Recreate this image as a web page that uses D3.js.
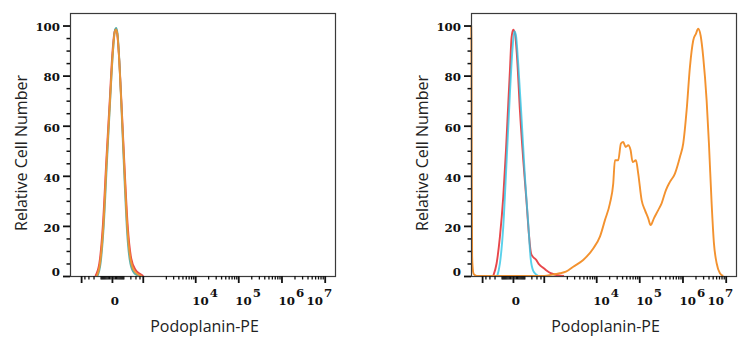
<!DOCTYPE html>
<html>
<head>
<meta charset="utf-8">
<script src="https://cdn.jsdelivr.net/npm/d3@7"></script>
<style>
  body { margin: 0; background: #fff; }
  svg { display: block; }
</style>
</head>
<body>
<svg id="chart" width="751" height="350"></svg>
<script>
// Axis definitions
const yTickValues = [0, 20, 40, 60, 80, 100];
const yMinorStep = 5;
const xMajorTicks = [-500, 0, 500, 1e4, 1e5, 1e6, 1e7];
const xLabelTicks = [0, 1e4, 1e5, 1e6, 1e7];
const xTitle = "Podoplanin-PE";
const yTitle = "Relative Cell Number";

// Histograms: [fluorescence intensity, % of max]
// Panel 1 (negative cells)
const leftRed = [[-170,0],[-115,5],[-75,20],[-42,46],[-15,70],[3,89],[18,97.5],[27,98.5],[38,97],[56,87],[86,64],[120,40],[158,20],[215,7],[300,2.5],[400,1],[520,0]];
const leftTeal = [[-140,0],[-100,5],[-66,20],[-36,46],[-11,71],[6,89],[20,97.8],[30,99],[41,97],[58,86],[85,62],[115,38],[148,18],[200,5],[280,1],[400,0]];
const leftOrange = [[-150,0],[-107,5],[-70,19.6],[-39,46],[-13,70],[5,88.7],[19,97.3],[29,98.3],[40,96.7],[57,86],[85,63.5],[117,39.6],[152,19.6],[206,6.4],[290,1.7],[465,0]];

// Panel 2 (positive cells)
const rightRed = [[-223,0],[-166,5.1],[-120,15.7],[-81,31.6],[-54,50.2],[-34,68.8],[-21,82],[-9,95.3],[2,98.3],[14,96.7],[31,86],[54,66.1],[88,46.2],[129,29],[160,17],[195,9],[235,7.5],[290,6.5],[370,4.5],[460,3.5],[560,2.5],[700,1.5],[900,0.8],[1200,0.3],[1700,0]];
const rightCyan = [[-157,0],[-120,5],[-81,19.6],[-48,46],[-21,72.8],[-2,91.4],[9,97.7],[21,96],[39,84.7],[71,62.2],[107,39.6],[151,21],[188,7],[234,2],[300,0.5],[342,0]];
const rightOrange = [[-990,100],[-975,94],[-955,40],[-935,8],[-900,3],[-860,1],[-800,0.4],[-700,0],[463,0],[1064,0.8],[1344,1.1],[1896,1.7],[2856,3.7],[4944,6.4],[8508,11],[12216,15.7],[15984,22.3],[20880,29],[24924,36.9],[27288,46.2],[32556,46.2],[37620,52.9],[42540,53.5],[48360,51.5],[55560,52.2],[63120,50.2],[70260,45.5],[83760,46.2],[94680,40.9],[113520,30.3],[135360,26.3],[161400,23],[183240,20.3],[218400,23],[274700,26.3],[329200,29],[414200,34.3],[512500,37.6],[669500,40.9],[873500,47.5],[1041500,52.9],[1246700,66.1],[1486700,83.4],[1772300,94],[2044700,96.7],[2311100,98.7],[2628000,96],[3020300,87.4],[3620300,70.1],[4093100,52.9],[4725500,29],[5344700,13],[6171500,5.1],[7352300,1.1],[8763500,0]];

const colors = { red: "#e8474b", teal: "#4aa9a0", cyan: "#2fc6e6", orange: "#f3922f" };

const panels = [
  { left: 70, series: [
    { data: leftRed, color: colors.red, opacity: 1 },
    { data: leftTeal, color: colors.teal, opacity: 0.9 },
    { data: leftOrange, color: colors.orange, opacity: 0.95 }
  ]},
  { left: 471, series: [
    { data: rightRed, color: colors.red, opacity: 1 },
    { data: rightCyan, color: colors.cyan, opacity: 0.8 },
    { data: rightOrange, color: colors.orange, opacity: 1 }
  ]}
];

// Minor ticks on the biexponential axis
function minorXTicks() {
  const t = [];
  for (let s of [-1, 1]) {
    for (let v = 10; v < 100; v += 10) t.push(s * v);
    for (let v = 100; v < 500; v += 100) t.push(s * v);
  }
  for (let e = 3; e < 7; e++) {
    for (let m = 2; m < 10; m++) t.push(m * Math.pow(10, e));
  }
  return t;
}
const yMinorTicks = d3.range(0, 101, yMinorStep).filter(v => yTickValues.indexOf(v) < 0);

const svg = d3.select("#chart");
const plotTop = 13, plotBottom = 276, plotWidth = 265;
const tickFont = "'DejaVu Serif', serif";
const tickSize = 11.8;
const titleFont = "'Open Sans', 'Noto Sans', sans-serif";

panels.forEach(p => {
  const x = d3.scaleSymlog().constant(120).domain([-1000, 1.73e7]).range([p.left, p.left + plotWidth]);
  const y = d3.scaleLinear().domain([0, 105]).range([plotBottom, plotTop]);
  const g = svg.append("g");

  // curves
  const line = d3.line().x(d => x(d[0])).y(d => y(d[1])).curve(d3.curveMonotoneX);
  p.series.forEach(s => {
    g.append("path").datum(s.data)
      .attr("d", line)
      .attr("fill", "none")
      .attr("stroke", s.color)
      .attr("stroke-opacity", s.opacity)
      .attr("stroke-width", 1.9)
      .attr("stroke-linejoin", "round");
  });

  // frame
  g.append("rect")
    .attr("x", p.left + 0.5).attr("y", plotTop + 0.5)
    .attr("width", plotWidth).attr("height", plotBottom - plotTop)
    .attr("fill", "none").attr("stroke", "#3a3a3a").attr("stroke-width", 1.2);

  // y axis ticks
  const yMajor = g.append("g").attr("transform", `translate(${p.left},0)`)
    .call(d3.axisLeft(y).tickValues(yTickValues).tickSize(7).tickPadding(3).tickFormat(d3.format("d")));
  yMajor.select(".domain").remove();
  yMajor.selectAll("line").attr("stroke", "#111").attr("stroke-width", 1.8);
  yMajor.selectAll("text")
    .attr("font-family", tickFont).attr("font-weight", "bold").attr("font-size", tickSize)
    .attr("fill", "#111")
    .attr("dy", d => d === 0 ? "-0.05em" : "0.45em");
  const yMin = g.append("g").attr("transform", `translate(${p.left},0)`)
    .call(d3.axisLeft(y).tickValues(yMinorTicks).tickSize(3.5).tickFormat(""));
  yMin.select(".domain").remove();
  yMin.selectAll("line").attr("stroke", "#111").attr("stroke-width", 1.5);

  // x axis ticks
  const xMaj = g.append("g").attr("transform", `translate(0,${plotBottom})`)
    .call(d3.axisBottom(x).tickValues(xMajorTicks).tickSize(7).tickFormat(""));
  xMaj.select(".domain").remove();
  xMaj.selectAll("line").attr("stroke", "#111").attr("stroke-width", 1.8);
  const xMin = g.append("g").attr("transform", `translate(0,${plotBottom})`)
    .call(d3.axisBottom(x).tickValues(minorXTicks()).tickSize(3.5).tickFormat(""));
  xMin.select(".domain").remove();
  xMin.selectAll("line").attr("stroke", "#111").attr("stroke-width", 1.3);

  // x tick labels: 0 and powers of ten
  const labels = g.append("g")
    .attr("font-family", tickFont).attr("font-weight", "bold").attr("font-size", tickSize).attr("fill", "#111");
  xLabelTicks.forEach((v, i) => {
    const tx = x(v);
    if (v === 0) {
      labels.append("text").attr("x", tx + 3).attr("y", 305).attr("text-anchor", "middle").text("0");
      return;
    }
    const last = i === xLabelTicks.length - 1;
    const t = labels.append("text")
      .attr("x", last ? tx + 7.5 : tx - 3).attr("y", 305)
      .attr("text-anchor", last ? "end" : "start");
    t.append("tspan").text("10");
    t.append("tspan").attr("dx", 1).attr("dy", -8).text(String(Math.round(Math.log10(v))));
  });

  // axis titles
  g.append("text")
    .attr("x", p.left + plotWidth / 2 + 2).attr("y", 331.5)
    .attr("text-anchor", "middle")
    .attr("font-family", titleFont).attr("font-size", 16).attr("fill", "#222")
    .text(xTitle);
  g.append("text")
    .attr("transform", `translate(${p.left - 43},${153}) rotate(-90)`)
    .attr("text-anchor", "middle")
    .attr("font-family", titleFont).attr("font-size", 16).attr("fill", "#222")
    .text(yTitle);
});
</script>
</body>
</html>
